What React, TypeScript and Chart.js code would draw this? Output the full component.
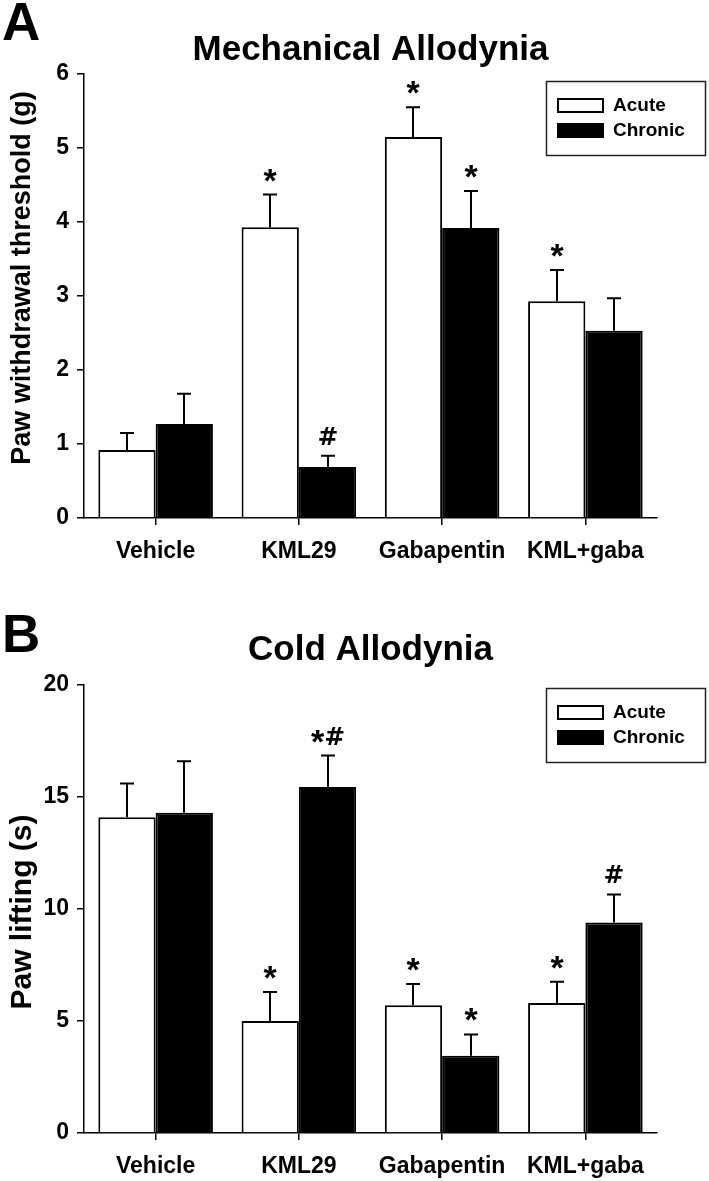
import React, { useEffect, useRef } from 'react';
import { Chart, registerables } from 'chart.js';

Chart.register(...registerables);

const FONT = "'Liberation Sans', Arial, Helvetica, sans-serif";
const HASH_FONT = "'DejaVu Sans', 'Liberation Sans', Arial, sans-serif";

const categories = ['Vehicle', 'KML29', 'Gabapentin', 'KML+gaba'];
const seriesLabels = ['Acute', 'Chronic'];

const mechLetter = 'A';
const mechTitle = 'Mechanical Allodynia';
const mechYLabel = 'Paw withdrawal threshold (g)';
const mechYMax = 6;
const mechYStep = 1;
const mechAcute = [0.92, 3.93, 5.15, 2.93];
const mechAcuteSem = [0.23, 0.44, 0.4, 0.42];
const mechChronic = [1.27, 0.69, 3.92, 2.53];
const mechChronicSem = [0.41, 0.15, 0.5, 0.44];
const mechAcuteMarks = ['', '*', '*', '*'];
const mechChronicMarks = ['', '#', '*', ''];

const coldLetter = 'B';
const coldTitle = 'Cold Allodynia';
const coldYLabel = 'Paw lifting (s)';
const coldYMax = 20;
const coldYStep = 5;
const coldAcute = [14.1, 5.0, 5.7, 5.8];
const coldAcuteSem = [1.5, 1.3, 0.95, 0.95];
const coldChronic = [14.3, 15.45, 3.45, 9.4];
const coldChronicSem = [2.3, 1.4, 0.95, 1.25];
const coldAcuteMarks = ['', '*', '*', '*'];
const coldChronicMarks = ['', '*#', '*', '#'];

type PanelProps = {
  letter: string;
  title: string;
  yLabel: string;
  yMax: number;
  yStep: number;
  acute: number[];
  acuteSem: number[];
  chronic: number[];
  chronicSem: number[];
  acuteMarks: string[];
  chronicMarks: string[];
  top: number;
  height: number;
  chartTop: number;
  xAxisHeight: number;
  legendTop: number;
  titleBaseline: number;
  letterBaseline: number;
  yLabelSize: number;
  yLabelCenter: number;
};

function drawMarks(ctx: CanvasRenderingContext2D, text: string, cx: number, inkBottom: number) {
  const chars = text.split('');
  const fonts = chars.map((c) => (c === '*' ? `bold 34px ${FONT}` : `bold 25px ${HASH_FONT}`));
  const widths = chars.map((c, i) => {
    ctx.font = fonts[i];
    return ctx.measureText(c).width;
  });
  const total = widths.reduce((a, b) => a + b, 0);
  let x = cx - total / 2;
  chars.forEach((c, i) => {
    ctx.font = fonts[i];
    const m = ctx.measureText(c);
    const gap = c === '*' ? 13 : 11;
    const baseline = inkBottom - gap - m.actualBoundingBoxDescent;
    ctx.textAlign = 'left';
    ctx.textBaseline = 'alphabetic';
    ctx.fillText(c, x, baseline);
    x += widths[i];
  });
}

function Panel(p: PanelProps) {
  const ref = useRef<HTMLCanvasElement | null>(null);
  useEffect(() => {
    if (!ref.current) return;
    const overlay = {
      id: 'overlay',
      afterDatasetsDraw(chart: any) {
        const ctx: CanvasRenderingContext2D = chart.ctx;
        const y = chart.scales.y;
        chart.data.datasets.forEach((ds: any, i: number) => {
          const meta = chart.getDatasetMeta(i);
          meta.data.forEach((el: any, j: number) => {
            const v = ds.data[j];
            const e = ds.sem[j];
            const yt = y.getPixelForValue(v + e);
            const x = Math.round(el.x);
            ctx.save();
            ctx.strokeStyle = '#000';
            ctx.lineWidth = 2;
            ctx.beginPath();
            ctx.moveTo(x, el.y);
            ctx.lineTo(x, yt);
            ctx.moveTo(x - 7, yt);
            ctx.lineTo(x + 7, yt);
            ctx.stroke();
            ctx.fillStyle = '#000';
            if (ds.marks[j]) drawMarks(ctx, ds.marks[j], x, yt);
            ctx.restore();
          });
        });
      },
      afterDraw(chart: any) {
        const ctx: CanvasRenderingContext2D = chart.ctx;
        const ca = chart.chartArea;
        ctx.save();
        ctx.fillStyle = '#000';
        // panel letter
        ctx.font = `bold 53px ${FONT}`;
        ctx.textAlign = 'left';
        ctx.textBaseline = 'alphabetic';
        ctx.fillText(p.letter, 2, p.letterBaseline);
        // title
        ctx.font = `bold 35px ${FONT}`;
        ctx.textAlign = 'center';
        ctx.fillText(p.title, (ca.left + ca.right) / 2, p.titleBaseline);
        // y axis title
        ctx.save();
        ctx.translate(23, p.yLabelCenter);
        ctx.rotate(-Math.PI / 2);
        ctx.font = `bold ${p.yLabelSize}px ${FONT}`;
        ctx.textAlign = 'center';
        ctx.textBaseline = 'middle';
        ctx.fillText(p.yLabel, 0, 0);
        ctx.restore();
        // legend
        const lx = 546;
        const lt = p.legendTop;
        ctx.strokeStyle = '#222';
        ctx.lineWidth = 1.5;
        ctx.strokeRect(lx + 0.5, lt + 0.5, 159, 74);
        chart.data.datasets.forEach((ds: any, i: number) => {
          const sy = lt + 18 + i * 25;
          ctx.fillStyle = ds.backgroundColor;
          ctx.fillRect(558, sy, 45, 13);
          ctx.strokeStyle = '#000';
          ctx.lineWidth = 2;
          ctx.strokeRect(558, sy, 45, 13);
          ctx.fillStyle = '#000';
          ctx.font = `bold 19px ${FONT}`;
          ctx.textAlign = 'left';
          ctx.textBaseline = 'middle';
          ctx.fillText(ds.label, 613, sy + 7);
        });
        ctx.restore();
      },
    };

    const chart = new Chart(ref.current, {
      type: 'bar',
      data: {
        labels: categories,
        datasets: [
          {
            label: seriesLabels[0],
            data: p.acute,
            sem: p.acuteSem,
            marks: p.acuteMarks,
            backgroundColor: '#ffffff',
            borderColor: '#000000',
            borderWidth: 2,
            categoryPercentage: 0.8,
            barPercentage: 1.0,
          } as any,
          {
            label: seriesLabels[1],
            data: p.chronic,
            sem: p.chronicSem,
            marks: p.chronicMarks,
            backgroundColor: '#000000',
            borderColor: '#000000',
            borderWidth: 2,
            categoryPercentage: 0.8,
            barPercentage: 1.0,
          } as any,
        ],
      },
      options: {
        animation: false,
        responsive: false,
        devicePixelRatio: 1,
        layout: { padding: { left: 0, right: 52, top: p.chartTop, bottom: 0 } },
        plugins: { legend: { display: false }, tooltip: { enabled: false }, title: { display: false } },
        scales: {
          x: {
            type: 'category',
            offset: true,
            grid: {
              display: true,
              drawOnChartArea: false,
              drawTicks: true,
              tickLength: 7,
              tickColor: '#000',
              lineWidth: 1.5,
              offset: false,
            },
            border: { display: true, color: '#000', width: 1.5 },
            ticks: {
              color: '#000',
              font: { family: FONT, size: 23, weight: 'bold' },
              padding: 13,
              maxRotation: 0,
              autoSkip: false,
            },
            afterFit: (s: any) => {
              s.height = p.xAxisHeight;
            },
          },
          y: {
            min: 0,
            max: p.yMax,
            grid: {
              display: true,
              drawOnChartArea: false,
              drawTicks: true,
              tickLength: 7,
              tickColor: '#000',
              lineWidth: 1.5,
            },
            border: { display: true, color: '#000', width: 1.5 },
            ticks: {
              stepSize: p.yStep,
              color: '#000',
              font: { family: FONT, size: 23, weight: 'bold' },
              padding: 8,
            },
            title: { display: false },
            afterFit: (s: any) => {
              s.width = 84;
            },
          },
        },
      } as any,
      plugins: [overlay as any],
    });
    return () => chart.destroy();
  }, []);

  return (
    <canvas
      ref={ref}
      width={709}
      height={p.height}
      style={{ position: 'absolute', left: 0, top: p.top, width: 709, height: p.height, display: 'block' }}
    />
  );
}

export default function App() {
  return (
    <div style={{ position: 'fixed', left: 0, top: 0, width: 709, height: 1181, background: '#fff', overflow: 'hidden' }}>
      <Panel
        letter={mechLetter}
        title={mechTitle}
        yLabel={mechYLabel}
        yMax={mechYMax}
        yStep={mechYStep}
        acute={mechAcute}
        acuteSem={mechAcuteSem}
        chronic={mechChronic}
        chronicSem={mechChronicSem}
        acuteMarks={mechAcuteMarks}
        chronicMarks={mechChronicMarks}
        top={0}
        height={590}
        chartTop={74}
        xAxisHeight={72}
        legendTop={81}
        titleBaseline={60}
        letterBaseline={40}
        yLabelSize={27}
        yLabelCenter={278}
      />
      <Panel
        letter={coldLetter}
        title={coldTitle}
        yLabel={coldYLabel}
        yMax={coldYMax}
        yStep={coldYStep}
        acute={coldAcute}
        acuteSem={coldAcuteSem}
        chronic={coldChronic}
        chronicSem={coldChronicSem}
        acuteMarks={coldAcuteMarks}
        chronicMarks={coldChronicMarks}
        top={590}
        height={591}
        chartTop={95}
        xAxisHeight={48}
        legendTop={98}
        titleBaseline={70}
        letterBaseline={62}
        yLabelSize={30}
        yLabelCenter={322}
      />
    </div>
  );
}
